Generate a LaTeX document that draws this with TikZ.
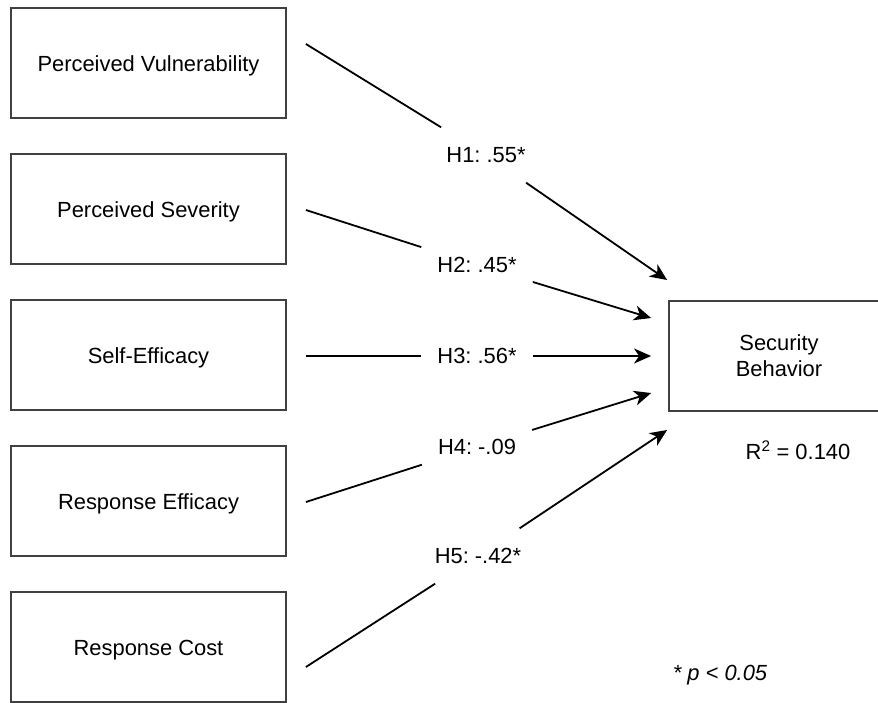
\documentclass[tikz,border=0pt]{standalone}
\usepackage{fontspec}
\setmainfont{Liberation Sans}
\usetikzlibrary{arrows.meta, positioning}
\frenchspacing

\begin{document}
\begin{tikzpicture}[
  x=1pt, y=-1pt,
  node distance=34.2pt,
  font=\fontsize{21.9}{26}\selectfont,
  block/.style={
    rectangle, draw=black!75, line width=1.8pt,
    minimum width=275pt, minimum height=110pt, inner sep=0pt,
    align=center
  },
  factor/.style={block, text height=16pt, text depth=0pt},
  hlabel/.style={inner xsep=16pt, inner ysep=0pt, minimum height=55pt},
  line/.style={draw, line width=1.8pt, color=black},
  arrowline/.style={line, -{Stealth[length=17pt, width=15pt, inset=5pt]}}
]
  \useasboundingbox (0,0) rectangle (878,702);

  \node [factor] (pv) at (148.5,63) {Perceived Vulnerability};
  \node [factor, below=of pv] (ps) {Perceived Severity};
  \node [factor, below=of ps] (se) {Self-Efficacy};
  \node [factor, below=of se] (re) {Response Efficacy};
  \node [factor, below=of re] (rc) {Response Cost};
  \node [block, minimum width=220pt] (sb) at (779,356) {Security\\Behavior};

  \node (rsq) at (798,450) {R\textsuperscript{2} = 0.140};
  \node (note) at (720,675) {\itshape * p < 0.05};

  \node [hlabel] (h1) at (486,155) {H1: .55*};
  \node [hlabel] (h2) at (477,265) {H2: .45*};
  \node [hlabel] (h3) at (477,356) {H3: .56*};
  \node [hlabel] (h4) at (477,447) {H4: -.09};
  \node [hlabel] (h5) at (478,556) {H5: -.42*};

  \coordinate (pv-out) at ([shift={(19,-19)}]pv.east);
  \coordinate (ps-out) at ([shift={(19,1)}]ps.east);
  \coordinate (se-out) at ([xshift=19pt]se.east |- sb.west);
  \coordinate (re-out) at ([shift={(19,1)}]re.east);
  \coordinate (rc-out) at ([shift={(19,20)}]rc.east);

  \coordinate (sb-in1) at ([shift={(-1,-76)}]sb.west);
  \coordinate (sb-in2) at ([shift={(-17,-38)}]sb.west);
  \coordinate (sb-in3) at ([xshift=-17pt]sb.west);
  \coordinate (sb-in4) at ([shift={(-17,37)}]sb.west);
  \coordinate (sb-in5) at ([shift={(-1,74)}]sb.west);

  \path [line] (pv-out) -- (h1);
  \path [arrowline] (h1) -- (sb-in1);
  \path [line] (ps-out) -- (h2);
  \path [arrowline] (h2) -- (sb-in2);
  \path [line] (se-out) -- (h3);
  \path [arrowline] (h3) -- (sb-in3);
  \path [line] (re-out) -- (h4);
  \path [arrowline] (h4) -- (sb-in4);
  \path [line] (rc-out) -- (h5);
  \path [arrowline] (h5) -- (sb-in5);

\end{tikzpicture}
\end{document}
